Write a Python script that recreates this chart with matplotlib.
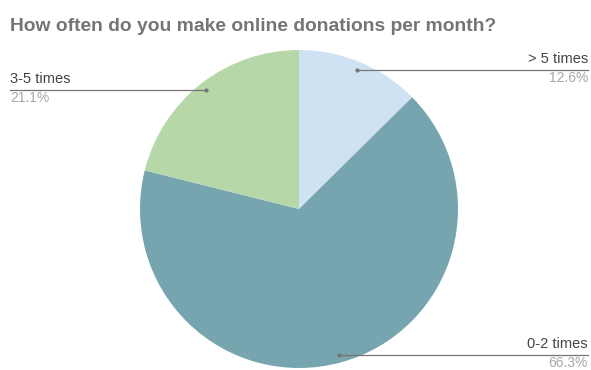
import matplotlib
matplotlib.use("Agg")
import matplotlib.pyplot as plt
import numpy as np

title = "How often do you make online donations per month?"
labels = ["> 5 times", "0-2 times", "3-5 times"]
shares = [12.6, 66.3, 21.1]
colors = ["#cfe2f3", "#76a5af", "#b6d7a8"]
# which side of the chart each label sits on
sides = ["right", "right", "left"]

W, H = 591, 370
fig = plt.figure(figsize=(W / 100, H / 100), dpi=100)
ax = fig.add_axes([0, 0, 1, 1])

cx, cy, R = 299, 161, 159
wedges, _ = ax.pie(shares, colors=colors, startangle=90, counterclock=False,
                   center=(cx, cy), radius=R, frame=True,
                   wedgeprops=dict(linewidth=0))
ax.set_xlim(0, W)
ax.set_ylim(0, H)
ax.set_aspect("equal")
ax.axis("off")

fig.text(10 / W, 1 - 31 / H, title, fontsize=13.9, fontweight="bold",
         color="#757575", family="Liberation Sans", va="baseline")

for w, lab, val, side in zip(wedges, labels, shares, sides):
    mid = np.deg2rad((w.theta1 + w.theta2) / 2)
    ax_x = cx + 0.95 * R * np.cos(mid)
    ax_y = cy + 0.95 * R * np.sin(mid)
    end_x = W - 3 if side == "right" else 10
    ha = "right" if side == "right" else "left"
    ax.plot([ax_x, end_x], [ax_y, ax_y], color="#757575", lw=0.9)
    ax.plot([ax_x], [ax_y], marker="o", ms=2, color="#757575")
    ax.text(end_x, ax_y + 4, lab, ha=ha, va="bottom", fontsize=10.5,
            color="#444444", family="Liberation Sans")
    ax.text(end_x, ax_y - 1.5, f"{val}%", ha=ha, va="top", fontsize=10,
            color="#a8a8a8", family="Liberation Sans")

fig.savefig("out.png", dpi=100, facecolor="white")
